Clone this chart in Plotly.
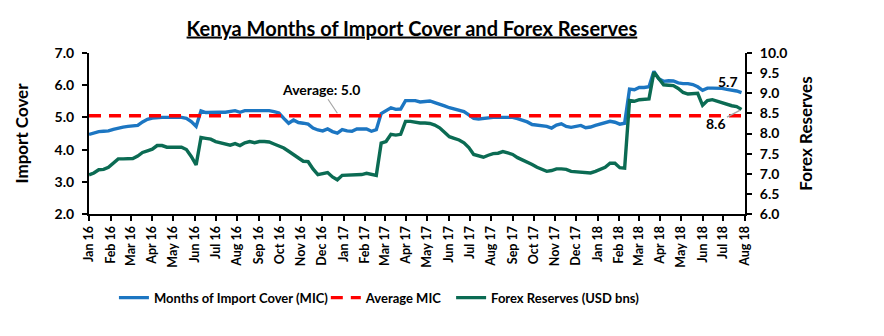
import pandas as pd
import plotly.graph_objects as go

# ---------------- data ----------------
start_date = "2016-01-01"   # weekly observations
mic = [4.47, 4.52, 4.56, 4.57, 4.58, 4.63, 4.67, 4.70, 4.72, 4.74,
       4.75, 4.86, 4.94, 4.98, 5.00, 5.00, 5.00, 5.00, 5.00, 5.00,
       4.97, 4.87, 4.72, 5.20, 5.15, 5.16, 5.16, 5.16, 5.16, 5.19,
       5.21, 5.16, 5.21, 5.21, 5.21, 5.21, 5.21, 5.21, 5.18, 5.14,
       4.97, 4.82, 4.92, 4.84, 4.82, 4.79, 4.67, 4.61, 4.58, 4.64,
       4.56, 4.51, 4.62, 4.58, 4.57, 4.64, 4.64, 4.64, 4.57, 4.62,
       5.12, 5.22, 5.30, 5.25, 5.26, 5.52, 5.52, 5.52, 5.48, 5.50,
       5.51, 5.46, 5.42, 5.36, 5.30, 5.26, 5.24, 5.18, 5.08, 4.97,
       4.95, 4.97, 5.00, 5.00, 5.00, 5.00, 5.00, 5.00, 4.96, 4.92,
       4.86, 4.78, 4.76, 4.74, 4.72, 4.67, 4.76, 4.80, 4.72, 4.69,
       4.73, 4.75, 4.68, 4.70, 4.75, 4.80, 4.85, 4.88, 4.85, 4.79,
       4.82, 5.88, 5.86, 5.93, 5.93, 5.95, 6.43, 6.20, 6.12, 6.14,
       6.13, 6.07, 6.05, 6.05, 6.02, 5.95, 5.84, 5.91, 5.91, 5.91,
       5.90, 5.87, 5.85, 5.82, 5.77]
forex = [6.97, 7.02, 7.10, 7.11, 7.16, 7.26, 7.37, 7.37, 7.37, 7.38,
         7.44, 7.53, 7.57, 7.61, 7.70, 7.70, 7.66, 7.66, 7.66, 7.66,
         7.60, 7.43, 7.22, 7.90, 7.88, 7.86, 7.80, 7.77, 7.74, 7.71,
         7.75, 7.70, 7.77, 7.80, 7.77, 7.80, 7.80, 7.79, 7.74, 7.70,
         7.64, 7.56, 7.47, 7.38, 7.31, 7.30, 7.12, 6.98, 7.00, 7.03,
         6.92, 6.85, 6.96, 6.96, 6.96, 6.96, 6.98, 7.01, 6.99, 6.96,
         7.76, 7.80, 7.98, 7.96, 7.98, 8.30, 8.30, 8.27, 8.26, 8.26,
         8.25, 8.21, 8.14, 8.03, 7.92, 7.88, 7.84, 7.77, 7.65, 7.48,
         7.44, 7.41, 7.46, 7.50, 7.51, 7.55, 7.52, 7.48, 7.40, 7.35,
         7.29, 7.23, 7.16, 7.11, 7.06, 7.08, 7.12, 7.12, 7.11, 7.06,
         7.05, 7.05, 7.04, 7.02, 7.06, 7.11, 7.16, 7.26, 7.26, 7.15,
         7.14, 8.82, 8.80, 8.84, 8.84, 8.86, 9.52, 9.38, 9.21, 9.20,
         9.19, 9.12, 9.02, 8.98, 9.00, 9.00, 8.70, 8.82, 8.84, 8.80,
         8.76, 8.72, 8.69, 8.67, 8.60]
avg_mic = 5.05
avg_label = "Average: 5.0"
last_mic_label = "5.7"
last_fx_label = "8.6"

dates = pd.date_range(start_date, periods=len(mic), freq="7D")

BLUE = "#1C76C2"
GREEN = "#0B6B53"
RED = "#FF0000"
FONT = "Lato"

fig = go.Figure()
fig.add_trace(go.Scatter(x=dates, y=mic, mode="lines", name="Months of Import Cover (MIC)",
                         line=dict(color=BLUE, width=3.4), legend="legend"))
fig.add_trace(go.Scatter(x=dates, y=[avg_mic] * len(dates), mode="lines", name="Average MIC",
                         line=dict(color=RED, width=3.4, dash="12px,8px"), legend="legend2"))
fig.add_trace(go.Scatter(x=dates, y=forex, mode="lines", name="Forex Reserves (USD bns)",
                         line=dict(color=GREEN, width=3.4), yaxis="y2", legend="legend3"))

axis_font = dict(family=FONT, size=14, color="black", weight="bold")
leg_font = dict(family=FONT, size=13, color="black", weight="bold")
leg_common = dict(orientation="h", xanchor="left", y=-0.52, yanchor="middle",
                  font=leg_font, bgcolor="rgba(0,0,0,0)")

fig.update_layout(
    width=884, height=336,
    margin=dict(l=89, r=139, t=53, b=122),
    paper_bgcolor="white", plot_bgcolor="white",
    font=dict(family=FONT, color="black"),
    title=dict(text="<u><b>Kenya Months of Import Cover and Forex Reserves</b></u>",
               x=0.466, xanchor="center", y=0.915, yanchor="middle",
               font=dict(family=FONT, size=20, color="black")),
    showlegend=True,
    legend=dict(x=0.038, **leg_common),
    legend2=dict(x=0.361, **leg_common),
    legend3=dict(x=0.552, **leg_common),
    xaxis=dict(type="date", range=["2016-01-01", "2018-08-01"],
               dtick="M1", tick0="2016-01-01", tickformat="%b %y", tickangle=-90,
               tickfont=dict(family=FONT, size=12.5, color="black", weight="bold"),
               showline=True, linecolor="black", linewidth=2,
               ticks="outside", ticklen=5, tickwidth=1.5, tickcolor="black",
               showgrid=False, zeroline=False),
    yaxis=dict(range=[2, 7], dtick=1, tickformat=".1f",
               tickfont=axis_font, ticklabelstandoff=5,
               title=dict(text="<b>Import Cover</b>", font=dict(family=FONT, size=17, color="black"),
                          standoff=22),
               showline=True, linecolor="black", linewidth=2,
               ticks="outside", ticklen=5, tickwidth=1.5, tickcolor="black",
               showgrid=False, zeroline=False),
    yaxis2=dict(range=[6, 10], dtick=0.5, tickformat=".1f", overlaying="y", side="right",
                tickfont=axis_font, ticklabelstandoff=5,
                title=dict(text="<b>Forex Reserves</b>", font=dict(family=FONT, size=17, color="black"),
                           standoff=14),
                showline=True, linecolor="black", linewidth=2,
                ticks="outside", ticklen=5, tickwidth=1.5, tickcolor="black",
                showgrid=False, zeroline=False),
)

fig.add_annotation(x=dates[51], y=avg_mic + 0.08, xref="x", yref="y",
                   text=f"<b>{avg_label}</b>", showarrow=True, arrowhead=0,
                   arrowcolor="#A6A6A6", arrowwidth=1.2, ax=-16, ay=-24,
                   font=dict(family=FONT, size=14, color="black"))
fig.add_annotation(x=dates[-1], y=mic[-1], xref="x", yref="y",
                   text=f"<b>{last_mic_label}</b>", showarrow=False,
                   xshift=-14, yshift=11,
                   font=dict(family=FONT, size=14, color="black"))
fig.add_annotation(x=dates[-1], y=forex[-1], xref="x", yref="y2",
                   text=f"<b>{last_fx_label}</b>", showarrow=True, arrowhead=0,
                   arrowcolor="#A6A6A6", arrowwidth=1.5, ax=-26, ay=14, standoff=2,
                   font=dict(family=FONT, size=14, color="black"))

fig.write_html("out.html")
